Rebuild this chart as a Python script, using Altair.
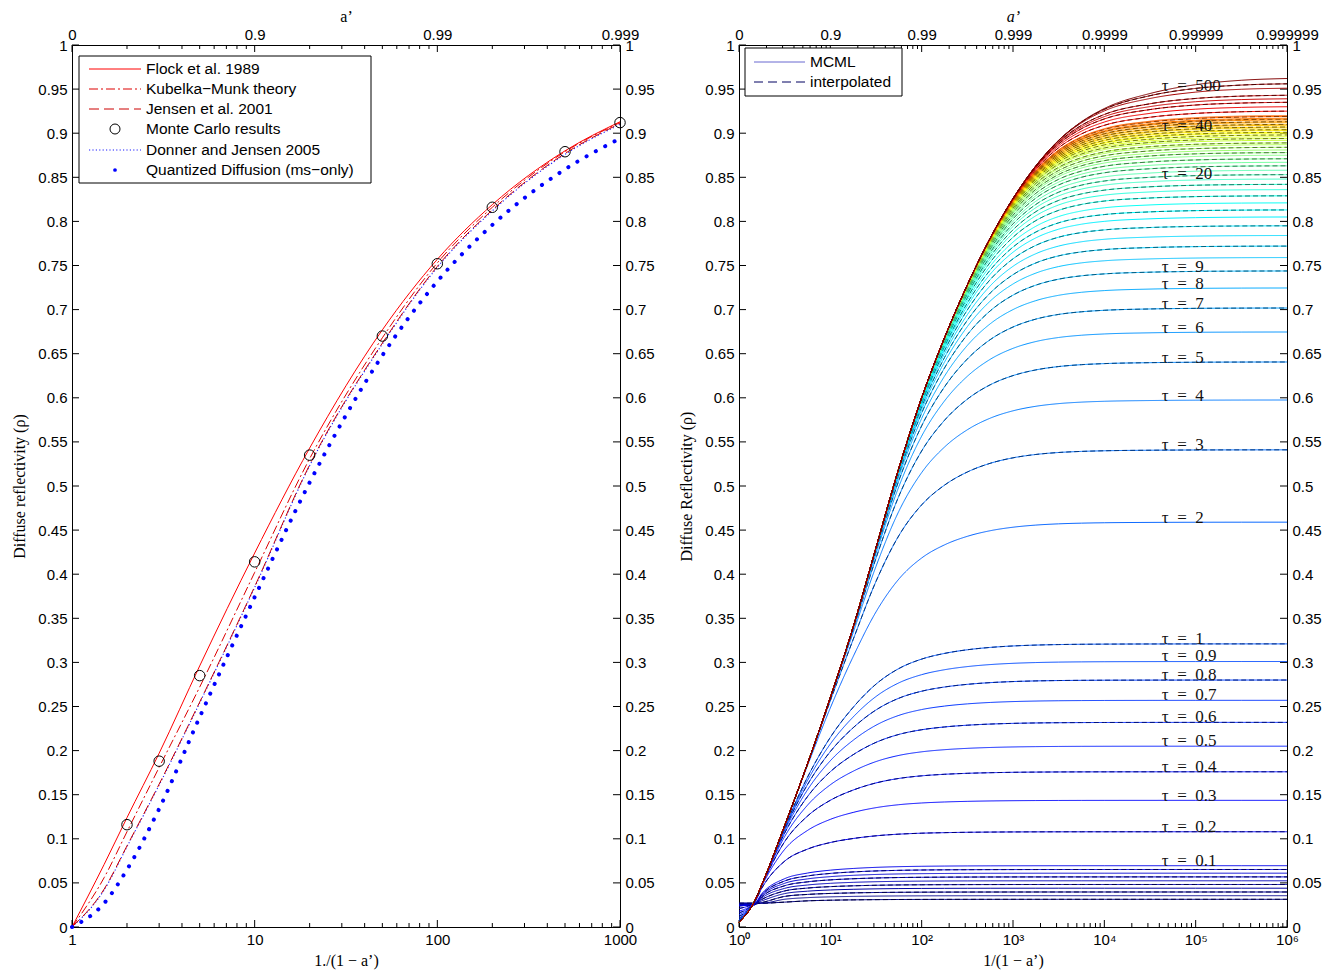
import altair as alt
import numpy as np
import pandas as pd

# ================= left panel data =================
L_X     = [1, 1.5, 2, 3, 5, 10, 20, 50, 100, 200, 500, 1000]
FLOCK   = [0, 0.071, 0.124, 0.197, 0.296, 0.424, 0.543, 0.677, 0.757, 0.819, 0.880, 0.913]
KUBELKA = [0, 0.056, 0.108, 0.181, 0.272, 0.402, 0.531, 0.668, 0.753, 0.816, 0.879, 0.912]
JENSEN  = [0, 0.043, 0.092, 0.162, 0.255, 0.386, 0.524, 0.662, 0.749, 0.813, 0.877, 0.911]
DONNER  = [0, 0.042, 0.091, 0.161, 0.254, 0.385, 0.523, 0.661, 0.748, 0.812, 0.876, 0.910]
QD      = [0, 0.027, 0.065, 0.134, 0.238, 0.374, 0.504, 0.648, 0.732, 0.796, 0.859, 0.894]
MC_X    = [2, 3, 5, 10, 20, 50, 100, 200, 500, 1000]
MC_Y    = [0.116, 0.188, 0.285, 0.414, 0.535, 0.670, 0.752, 0.816, 0.879, 0.912]
LEFT_LEGEND = ["Flock et al. 1989", "Kubelka\u2212Munk theory", "Jensen et al. 2001",
               "Monte Carlo results", "Donner and Jensen 2005", "Quantized Diffusion (ms\u2212only)"]
L_XTICKS = [1, 10, 100, 1000]
L_XMINOR = [m * 10 ** d for d in range(3) for m in range(2, 10)]
L_TOP_LABELS = ["0", "0.9", "0.99", "0.999"]

# ================= right panel data =================
R_LOGX   = [0, 0.165, 0.25, 0.5, 0.75, 1.0, 1.25, 1.5, 1.75, 2.0, 2.25, 2.5, 2.75,
            3.0, 3.25, 3.5, 3.75, 4.0, 4.5, 5.0, 5.5, 6.0]
ENVELOPE = [0.0055, 0.028, 0.048, 0.115, 0.185, 0.26, 0.34, 0.43, 0.52, 0.60, 0.668, 0.728, 0.781,
            0.826, 0.863, 0.892, 0.913, 0.928, 0.945, 0.955, 0.960, 0.962]
TAU_LABELS = (["0.0%d" % k for k in range(1, 10)] + ["0.%d" % k for k in range(1, 10)]
              + [str(k) for k in range(1, 51)] + ["60", "70", "80", "90", "100", "200", "300", "500"])
PLATEAU = [0.0314, 0.0355, 0.0397, 0.0440, 0.0482, 0.0524, 0.0568, 0.0610, 0.0652,
           0.0695, 0.108, 0.1436, 0.176, 0.205, 0.232, 0.257, 0.280, 0.301,
           0.321, 0.459, 0.541, 0.5975, 0.6406, 0.6746, 0.7018, 0.7245, 0.7438,
           0.759, 0.772, 0.784, 0.795, 0.805, 0.813, 0.821, 0.829, 0.836, 0.842,
           0.848, 0.853, 0.858, 0.863, 0.867, 0.871, 0.875, 0.878, 0.881, 0.884,
           0.887, 0.889, 0.892, 0.894, 0.896, 0.898, 0.900, 0.901, 0.903, 0.904,
           0.906, 0.907, 0.909, 0.910, 0.912, 0.913, 0.915, 0.916, 0.917, 0.919, 0.920,
           0.925, 0.930, 0.935, 0.939, 0.943, 0.951, 0.956, 0.962]
START = ([0.027, 0.027, 0.026, 0.026, 0.026, 0.025, 0.025, 0.025, 0.024, 0.024,
          0.021, 0.018, 0.016, 0.014, 0.012, 0.010, 0.009, 0.008, 0.007] + [0.0] * 57)
LABEL_TAUS = ["500", "40", "20", "9", "8", "7", "6", "5", "4", "3", "2",
              "1", "0.9", "0.8", "0.7", "0.6", "0.5", "0.4", "0.3", "0.2", "0.1"]
LABEL_RHO = [0.9535, 0.908, 0.854, 0.748, 0.729, 0.706, 0.679, 0.645, 0.602, 0.5465, 0.4637,
             0.3265, 0.307, 0.2857, 0.263, 0.238, 0.211, 0.181, 0.1485, 0.1134, 0.0748]
LABEL_X = 10 ** 4.63
R_XTICKS = [1, 10, 100, 1000, 10000, 100000, 1000000]
R_XMINOR = [m * 10 ** d for d in range(6) for m in range(2, 10)]
R_TOP_LABELS = ["0", "0.9", "0.99", "0.999", "0.9999", "0.99999", "0.999999"]
R_BOTTOM_SUP = ["\u2070", "\u00b9", "\u00b2", "\u00b3", "\u2074", "\u2075", "\u2076"]
RIGHT_LEGEND = ["MCML", "interpolated"]
Y_TICKS = [round(0.05 * i, 2) for i in range(21)]

# ---------------- layout: one view, two panels side by side ----------------
PW = 548          # panel plot width
GAP = 119         # gap between the two plot areas
X0R = PW + GAP    # left edge of right panel
TW = X0R + PW     # total view width
H = 882
YS = alt.Scale(domain=[0, 1], nice=False, zero=False)
XS_L = alt.Scale(type="log", domain=[1, 1000], range=[0, PW], nice=False)
XS_R = alt.Scale(type="log", domain=[1, 1000000], range=[X0R, TW], nice=False)


def dummy():
    return pd.DataFrame({"d": [0]})


def axis_layers(xscale, x0, x1, xmajor, xminor, bottom_axis, top_axis, left_axis, right_axis,
                major=7, minor=4):
    maj = pd.DataFrame({"v": xmajor})
    mno = pd.DataFrame({"v": xminor})
    yt = pd.DataFrame({"v": Y_TICKS})
    return [
        alt.Chart(maj).mark_rule(color="black", strokeWidth=1).encode(
            x=alt.X("v:Q", scale=xscale, axis=bottom_axis), y=alt.value(H), y2=alt.value(H - major)),
        alt.Chart(maj).mark_rule(color="black", strokeWidth=1).encode(
            x=alt.X("v:Q", scale=xscale, axis=top_axis), y=alt.value(0), y2=alt.value(major)),
        alt.Chart(mno).mark_rule(color="black", strokeWidth=1).encode(
            x=alt.X("v:Q", scale=xscale, axis=None), y=alt.value(H), y2=alt.value(H - minor)),
        alt.Chart(mno).mark_rule(color="black", strokeWidth=1).encode(
            x=alt.X("v:Q", scale=xscale, axis=None), y=alt.value(0), y2=alt.value(minor)),
        alt.Chart(yt).mark_rule(color="black", strokeWidth=1).encode(
            y=alt.Y("v:Q", scale=YS, axis=left_axis), x=alt.value(x0), x2=alt.value(x0 + major)),
        alt.Chart(yt).mark_rule(color="black", strokeWidth=1).encode(
            y=alt.Y("v:Q", scale=YS, axis=right_axis), x=alt.value(x1), x2=alt.value(x1 - major)),
    ]


def decade_expr(labels, prefix=""):
    arr = "[" + ",".join("'%s'" % s for s in labels) + "]"
    return "%s%s[round(log(datum.value)/LN10)]" % (prefix, arr)


layers = []

# ---------------- left panel ----------------
def lcurve(ys, color, dash=None, width=1.0):
    mk = dict(color=color, strokeWidth=width, interpolate="monotone")
    if dash is not None:
        mk["strokeDash"] = dash
    return alt.Chart(pd.DataFrame({"x": L_X, "y": ys})).mark_line(**mk).encode(
        x=alt.X("x:Q", scale=XS_L, axis=None), y=alt.Y("y:Q", scale=YS, axis=None))


layers += axis_layers(
    XS_L, 0, PW, L_XTICKS, L_XMINOR,
    alt.Axis(orient="bottom", values=L_XTICKS, format="d", title="1./(1 \u2212 a\u2019)",
             labelPadding=5, titlePadding=5),
    alt.Axis(orient="top", values=L_XTICKS, labelExpr=decade_expr(L_TOP_LABELS), title="a\u2019",
             labelPadding=3, titlePadding=3),
    alt.Axis(orient="left", values=Y_TICKS, format="~g", title="Diffuse reflectivity (\u03c1)",
             labelPadding=5, titlePadding=10),
    alt.Axis(orient="right", values=Y_TICKS, format="~g", title=None, labelPadding=5,
             offset=-(TW - PW)),
)
layers += [
    lcurve(DONNER, "#1a1aff", [1.2, 2.2], 1.1),
    lcurve(JENSEN, "#cc0000", [10, 5], 1.0),
    lcurve(KUBELKA, "#dd0000", [9, 3, 2, 3], 1.0),
    lcurve(FLOCK, "#ff0000", None, 1.0),
    alt.Chart(pd.DataFrame({"x": L_X, "y": QD})).mark_line(
        color="#0000ff", strokeWidth=4, strokeCap="round", strokeDash=[0.1, 10.5],
        interpolate="monotone").encode(
        x=alt.X("x:Q", scale=XS_L, axis=None), y=alt.Y("y:Q", scale=YS, axis=None)),
    alt.Chart(pd.DataFrame({"x": MC_X, "y": MC_Y})).mark_point(
        shape="circle", size=110, filled=False, color="black", strokeWidth=1, opacity=1).encode(
        x=alt.X("x:Q", scale=XS_L, axis=None), y=alt.Y("y:Q", scale=YS, axis=None)),
]

# left legend
LY = [24, 44, 64, 84, 105, 125]
layers.append(alt.Chart(dummy()).mark_rect(fill="white", stroke="black", strokeWidth=1).encode(
    x=alt.value(7), x2=alt.value(299), y=alt.value(11), y2=alt.value(138)))
leg_styles = [("#ff0000", None), ("#dd0000", [9, 3, 2, 3]), ("#cc0000", [10, 5]),
              None, ("#1a1aff", [1.2, 2.2]), None]
for i, st in enumerate(leg_styles):
    if st is None:
        continue
    mk = dict(color=st[0], strokeWidth=1)
    if st[1] is not None:
        mk["strokeDash"] = st[1]
    layers.append(alt.Chart(dummy()).mark_rule(**mk).encode(
        x=alt.value(17), x2=alt.value(69), y=alt.value(LY[i])))
layers.append(alt.Chart(dummy()).mark_point(shape="circle", size=100, filled=False, color="black",
                                            strokeWidth=1, opacity=1).encode(
    x=alt.value(43), y=alt.value(LY[3])))
layers.append(alt.Chart(dummy()).mark_circle(size=14, color="#0000ff", opacity=1).encode(
    x=alt.value(43), y=alt.value(LY[5])))
for i, lab in enumerate(LEFT_LEGEND):
    layers.append(alt.Chart(dummy()).mark_text(
        align="left", baseline="middle", font="Liberation Sans", fontSize=15.5, color="black").encode(
        x=alt.value(74), y=alt.value(LY[i]), text=alt.value(lab)))

# ---------------- right panel ----------------
def jet(v):
    r = min(max(min(4 * v - 1.5, -4 * v + 4.5), 0), 1)
    g = min(max(min(4 * v - 0.5, -4 * v + 3.5), 0), 1)
    b = min(max(min(4 * v + 0.5, -4 * v + 2.5), 0), 1)
    return r, g, b


def hexc(r, g, b):
    return "#%02x%02x%02x" % (int(round(r * 255)), int(round(g * 255)), int(round(b * 255)))


def colour_pos(i, n):
    # position on the jet colour map: band up to tau=50 spans blue..orange, the rest red..dark red
    n_band = n - 8
    if i < n_band:
        return 0.78 * i / (n_band - 1)
    return 0.87 + 0.13 * (i - n_band) / 7


env = np.array(ENVELOPE)
envx = [10 ** v for v in R_LOGX]
a_ = (1 + env ** 2) / (2 * env)
b_ = (1 - env ** 2) / (2 * env)


def km(D):
    t = np.tanh(b_ * D)
    return t / (a_ * t + b_)


rows = []
N = len(TAU_LABELS)
for i, (P, S) in enumerate(zip(PLATEAU, START)):
    if P >= env[-1] - 1e-4:
        ys = env.copy()
    else:
        lo, hi = 1e-6, 1e6
        for _ in range(200):
            mid = (lo * hi) ** 0.5
            if km(mid)[-1] < P:
                lo = mid
            else:
                hi = mid
        ys = km(mid)
    ys = np.maximum(ys, S)
    r, g, b = jet(colour_pos(i, N))
    col = hexc(r, g, b)
    dark = hexc(0.5 * r, 0.5 * g, 0.5 * b)
    for xv, yv in zip(envx, ys):
        rows.append({"x": xv, "y": float(yv), "key": "c%02da" % i, "col": col, "kind": "s"})
    if i % 2 == 0:
        for xv, yv in zip(envx, ys):
            rows.append({"x": xv, "y": float(yv), "key": "c%02db" % i, "col": dark, "kind": "d"})
rdf = pd.DataFrame(rows)

layers += axis_layers(
    XS_R, X0R, TW, R_XTICKS, R_XMINOR,
    alt.Axis(orient="bottom", values=R_XTICKS, labelExpr=decade_expr(R_BOTTOM_SUP, "'10' + "),
             title="1/(1 \u2212 a\u2019)", labelPadding=5, titlePadding=5),
    alt.Axis(orient="top", values=R_XTICKS, labelExpr=decade_expr(R_TOP_LABELS), title="a\u2019",
             titleFontStyle="italic", labelPadding=3, titlePadding=3),
    alt.Axis(orient="left", values=Y_TICKS, format="~g", title="Diffuse Reflectivity (\u03c1)",
             labelPadding=5, titlePadding=10, offset=-X0R),
    alt.Axis(orient="right", values=Y_TICKS, format="~g", title=None, labelPadding=5),
)
layers.append(alt.Chart(rdf).mark_line(strokeWidth=1, interpolate="monotone").encode(
    x=alt.X("x:Q", scale=XS_R, axis=None),
    y=alt.Y("y:Q", scale=YS, axis=None),
    color=alt.Color("col:N", scale=None),
    detail="key:N",
    strokeDash=alt.StrokeDash("kind:N", scale=alt.Scale(domain=["s", "d"], range=[[1, 0], [5, 3]]),
                              legend=None),
))
lab_df = pd.DataFrame({"x": [LABEL_X] * len(LABEL_TAUS), "y": LABEL_RHO,
                       "t": ["\u03c4\u2002=\u2002" + t for t in LABEL_TAUS]})
layers.append(alt.Chart(lab_df).mark_text(
    align="left", baseline="middle", font="Liberation Serif", fontSize=17, color="#111111").encode(
    x=alt.X("x:Q", scale=XS_R, axis=None), y=alt.Y("y:Q", scale=YS, axis=None), text="t:N"))

# right legend
layers.append(alt.Chart(dummy()).mark_rect(fill="white", stroke="black", strokeWidth=1).encode(
    x=alt.value(X0R + 6), x2=alt.value(X0R + 163), y=alt.value(3), y2=alt.value(51)))
layers.append(alt.Chart(dummy()).mark_rule(color="#6868d0", strokeWidth=1).encode(
    x=alt.value(X0R + 15), x2=alt.value(X0R + 66), y=alt.value(17)))
layers.append(alt.Chart(dummy()).mark_rule(color="#000060", strokeWidth=1, strokeDash=[9, 5]).encode(
    x=alt.value(X0R + 15), x2=alt.value(X0R + 66), y=alt.value(37)))
for i, lab in enumerate(RIGHT_LEGEND):
    layers.append(alt.Chart(dummy()).mark_text(
        align="left", baseline="middle", font="Liberation Sans", fontSize=15.5, color="black").encode(
        x=alt.value(X0R + 71), y=alt.value([17, 37][i]), text=alt.value(lab)))

chart = alt.layer(*layers).resolve_scale(x="independent").properties(
    width=TW, height=H,
    padding={"left": 3, "top": 0, "right": 3, "bottom": 3},
    background="white",
).configure_view(strokeWidth=0).configure_axis(
    labelFont="Liberation Sans", labelFontSize=15, labelColor="black",
    titleFont="Liberation Serif", titleFontSize=16, titleFontWeight="normal", titleColor="black",
    domainColor="black", domainWidth=1, ticks=False, grid=False,
    labelFlush=False, labelOverlap=False,
)

chart.save("out.html", embed_options={"renderer": "svg", "actions": False})
